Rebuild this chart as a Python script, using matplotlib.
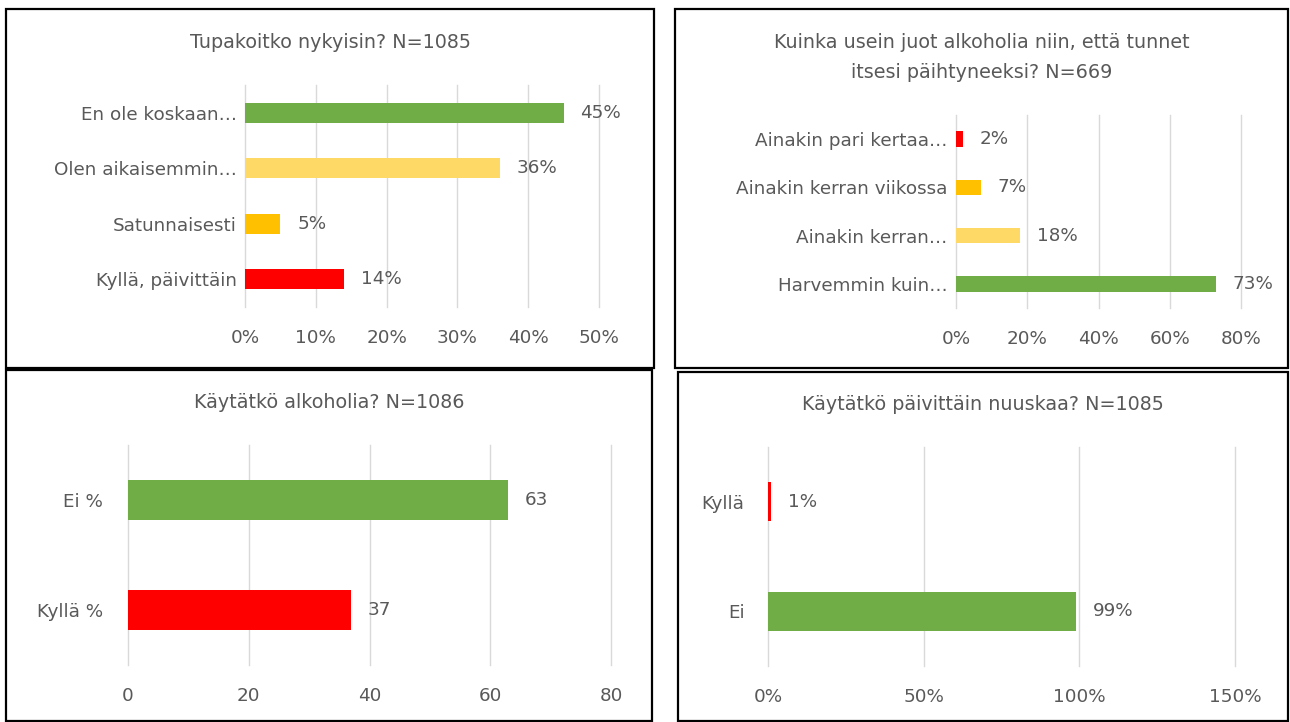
import matplotlib
matplotlib.use("Agg")
import matplotlib.pyplot as plt
from matplotlib.patches import Rectangle

# ---------------- data ----------------
smoke_title = ["Tupakoitko nykyisin? N=1085"]
smoke_labels = ["En ole koskaan…", "Olen aikaisemmin…", "Satunnaisesti", "Kyllä, päivittäin"]
smoke_values = [45, 36, 5, 14]
smoke_ticks = [0, 10, 20, 30, 40, 50]

drunk_title = ["Kuinka usein juot alkoholia niin, että tunnet", "itsesi päihtyneeksi? N=669"]
drunk_labels = ["Ainakin pari kertaa…", "Ainakin kerran viikossa", "Ainakin kerran…", "Harvemmin kuin…"]
drunk_values = [2, 7, 18, 73]
drunk_ticks = [0, 20, 40, 60, 80]

alc_title = ["Käytätkö alkoholia? N=1086"]
alc_labels = ["Ei %", "Kyllä %"]
alc_values = [63, 37]
alc_ticks = [0, 20, 40, 60, 80]

snus_title = ["Käytätkö päivittäin nuuskaa? N=1085"]
snus_labels = ["Kyllä", "Ei"]
snus_values = [1, 99]
snus_ticks = [0, 50, 100, 150]

# ---------------- style ----------------
GREEN = '#70AD47'
LIGHT = '#FFD966'
GOLD = '#FFC000'
RED = '#FF0000'
TXT = '#595959'
GRID = '#D9D9D9'

plt.rcParams['font.family'] = ['DejaVu Sans']
FS = 13.2

W, H = 1290, 722
fig = plt.figure(figsize=(W / 100, H / 100), dpi=100)


def border(x0, y0, x1, y1):
    fig.patches.append(Rectangle((x0 / W, 1 - y1 / H), (x1 - x0) / W, (y1 - y0) / H,
                                 transform=fig.transFigure, fill=False,
                                 ec='black', lw=1.6, zorder=10))


def panel(box, title_lines, title_ys, axbox, cats, vals, colors, ticks, pct,
          bar_h, ypad):
    bx0, by0, bx1, by1 = box
    border(bx0, by0, bx1, by1)
    cx = (bx0 + bx1) / 2
    for line, ty in zip(title_lines, title_ys):
        fig.text(cx / W, 1 - ty / H, line, ha='center', va='center',
                 color=TXT, fontsize=FS + 0.6)
    x0, x1, y0, y1 = axbox
    ax = fig.add_axes([x0 / W, 1 - y1 / H, (x1 - x0) / W, (y1 - y0) / H])
    n = len(cats)
    pos = list(range(n))
    ax.barh(pos, vals, height=bar_h, color=colors, zorder=3)
    ax.set_ylim(n - 0.5, -0.5)
    ax.set_xlim(ticks[0], ticks[-1])
    ax.set_xticks(ticks)
    ax.set_xticklabels([f"{t}%" if pct else f"{t}" for t in ticks])
    ax.set_yticks(pos)
    ax.set_yticklabels(cats)
    ax.grid(axis='x', color=GRID, lw=1, zorder=0)
    for gl in ax.get_xgridlines():
        gl.set_clip_on(False)
    ax.set_axisbelow(True)
    for s in ax.spines.values():
        s.set_visible(False)
    ax.tick_params(axis='x', length=0, pad=16, labelsize=FS, labelcolor=TXT)
    ax.tick_params(axis='y', length=0, pad=ypad, labelsize=FS, labelcolor=TXT)
    ax.patch.set_alpha(0)
    for i, v in enumerate(vals):
        ax.annotate(f"{v}%" if pct else f"{v}", (v, i), xytext=(12, 0),
                    textcoords='offset points', va='center', ha='left',
                    color=TXT, fontsize=FS, annotation_clip=False)
    return ax


panel((6, 9, 654, 368), smoke_title, [43], (245, 599, 85, 307),
      smoke_labels, smoke_values, [GREEN, LIGHT, GOLD, RED], smoke_ticks, True,
      0.36, 6)

panel((675, 9, 1288, 368), drunk_title, [43, 72], (956, 1241, 115, 308),
      drunk_labels, drunk_values, [RED, GOLD, LIGHT, GREEN], drunk_ticks, True,
      0.32, 6)

panel((6, 370, 652, 721), alc_title, [403], (128, 611, 445, 665),
      alc_labels, alc_values, [GREEN, RED], alc_ticks, False,
      0.355, 18)

panel((678, 372, 1288, 721), snus_title, [405], (768, 1235, 447, 666),
      snus_labels, snus_values, [RED, GREEN], snus_ticks, True,
      0.355, 17)

fig.savefig("out.png", dpi=100, facecolor='white')
